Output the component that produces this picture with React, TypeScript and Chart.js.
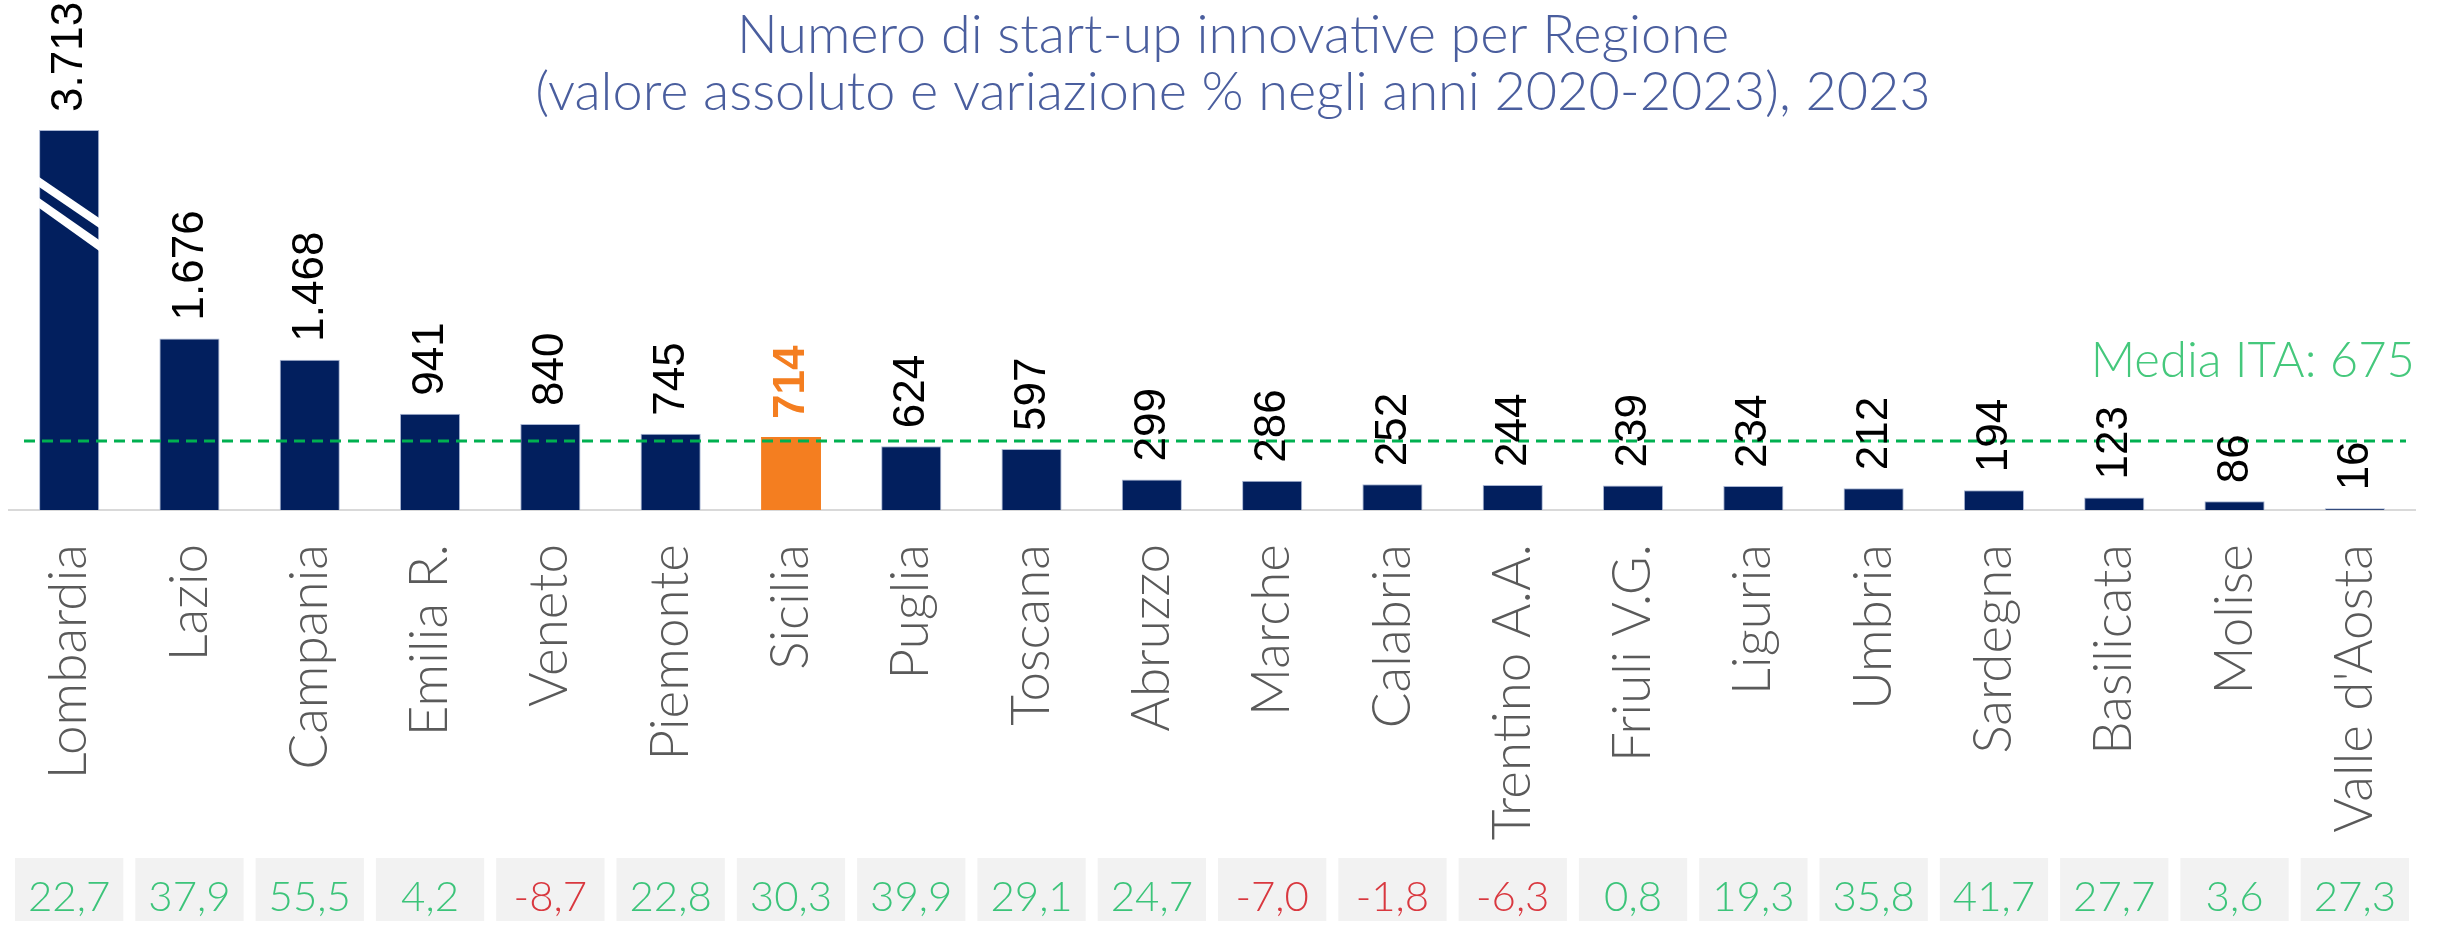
import React, { useEffect, useRef } from "react";
import { Chart, registerables } from "chart.js";

Chart.register(...registerables);

const titleLines = [
  "Numero di start-up innovative per Regione",
  "(valore assoluto e variazione % negli anni 2020-2023), 2023",
];

const categories = [
  "Lombardia", "Lazio", "Campania", "Emilia R.", "Veneto", "Piemonte", "Sicilia",
  "Puglia", "Toscana", "Abruzzo", "Marche", "Calabria", "Trentino A.A.",
  "Friuli V.G.", "Liguria", "Umbria", "Sardegna", "Basilicata", "Molise", "Valle d'Aosta",
];

const startups = [
  3713, 1676, 1468, 941, 840, 745, 714, 624, 597, 299, 286, 252, 244, 239, 234, 212, 194, 123, 86, 16,
];

const variazione = [
  22.7, 37.9, 55.5, 4.2, -8.7, 22.8, 30.3, 39.9, 29.1, 24.7, -7.0, -1.8, -6.3, 0.8, 19.3, 35.8, 41.7, 27.7, 3.6, 27.3,
];

const mediaITA = 675;
const mediaLabel = "Media ITA: 675";
const highlightRegion = "Sicilia";
const brokenRegion = "Lombardia";

const NAVY = "#021f5e";
const ORANGE = "#f47e20";
const THIN_FONT = "Lato, 'Open Sans', sans-serif";
const VALUE_FONT = "'Liberation Sans', Arial, sans-serif";

function fmtInt(v: number): string {
  return String(v).replace(/\B(?=(\d{3})+(?!\d))/g, ".");
}
function fmtDec(v: number): string {
  return v.toFixed(1).replace(".", ",");
}

const decorPlugin = {
  id: "decor",
  beforeDraw(chart: any) {
    const ctx = chart.ctx;
    ctx.save();
    ctx.fillStyle = "#4a5e9e";
    ctx.font = `300 54px ${THIN_FONT}`;
    ctx.textAlign = "center";
    ctx.textBaseline = "alphabetic";
    const cx = chart.width / 2 + 10;
    ctx.fillText(titleLines[0], cx, 53);
    ctx.fillText(titleLines[1], cx, 110);
    ctx.restore();
  },
  afterDatasetsDraw(chart: any) {
    const ctx = chart.ctx;
    const meta = chart.getDatasetMeta(0);
    const area = chart.chartArea;
    const yScale = chart.scales.y;

    // break marks on the tallest bar
    meta.data.forEach((bar: any, i: number) => {
      if (categories[i] !== brokenRegion) return;
      const L = bar.x - bar.width / 2;
      const R = bar.x + bar.width / 2;
      const t = bar.y;
      ctx.save();
      ctx.fillStyle = "#ffffff";
      const stripes = [
        [47, 57, 88, 98],
        [68, 78, 110, 121],
      ];
      stripes.forEach(([a, b, c, d]) => {
        ctx.beginPath();
        ctx.moveTo(L, t + a);
        ctx.lineTo(R, t + c);
        ctx.lineTo(R, t + d);
        ctx.lineTo(L, t + b);
        ctx.closePath();
        ctx.fill();
      });
      ctx.restore();
    });

    // mean line
    const ym = yScale.getPixelForValue(mediaITA);
    ctx.save();
    ctx.strokeStyle = "#00b050";
    ctx.lineWidth = 3;
    ctx.setLineDash([11, 7]);
    ctx.beginPath();
    ctx.moveTo(area.left + 15, ym);
    ctx.lineTo(area.right - 9, ym);
    ctx.stroke();
    ctx.restore();

    // mean label
    ctx.save();
    ctx.fillStyle = "#45c87c";
    ctx.font = `300 49px ${THIN_FONT}`;
    ctx.textAlign = "right";
    ctx.textBaseline = "alphabetic";
    ctx.fillText(mediaLabel, area.right, ym - 64);
    ctx.restore();

    // value labels
    meta.data.forEach((bar: any, i: number) => {
      const isHi = categories[i] === highlightRegion;
      ctx.save();
      ctx.translate(bar.x, bar.y - 18);
      ctx.rotate(-Math.PI / 2);
      ctx.textAlign = "left";
      ctx.textBaseline = "middle";
      ctx.fillStyle = isHi ? ORANGE : "#000000";
      ctx.font = `${isHi ? "bold " : ""}44px ${VALUE_FONT}`;
      ctx.fillText(fmtInt(startups[i]), 0, 1);
      ctx.restore();
    });
  },
  afterDraw(chart: any) {
    const ctx = chart.ctx;
    const xScale = chart.scales.x;
    const boxW = xScale.width / categories.length - 12;
    variazione.forEach((v, i) => {
      const cx = xScale.getPixelForValue(i);
      ctx.save();
      ctx.fillStyle = "#f2f2f2";
      ctx.fillRect(cx - boxW / 2, 858, boxW, 63);
      ctx.fillStyle = v < 0 ? "#d9383f" : "#3cc47a";
      ctx.font = `300 42px ${THIN_FONT}`;
      ctx.textAlign = "center";
      ctx.textBaseline = "alphabetic";
      ctx.fillText(fmtDec(v), cx, 911);
      ctx.restore();
    });
  },
};

export default function App() {
  const ref = useRef<HTMLCanvasElement | null>(null);

  useEffect(() => {
    if (!ref.current) return;
    const chart = new Chart(ref.current, {
      type: "bar",
      data: {
        labels: categories,
        datasets: [
          {
            data: startups,
            backgroundColor: categories.map((c) => (c === highlightRegion ? ORANGE : NAVY)),
            borderColor: categories.map((c) => (c === highlightRegion ? ORANGE : "#a9b6d3")),
            borderWidth: 1,
            barPercentage: 0.5,
            categoryPercentage: 1.0,
          },
        ],
      },
      options: {
        animation: false,
        responsive: true,
        maintainAspectRatio: false,
        layout: { padding: { left: 9, right: 31, top: 130, bottom: 0 } },
        plugins: {
          legend: { display: false },
          tooltip: { enabled: false },
          title: { display: false },
        },
        scales: {
          x: {
            grid: { display: false },
            border: { display: true, color: "#d9d9d9", width: 2 },
            ticks: {
              color: "#5a5a5a",
              font: { family: THIN_FONT, size: 53, weight: "300" },
              maxRotation: 90,
              minRotation: 90,
              padding: 26,
              autoSkip: false,
            },
            afterFit: (scale: any) => {
              scale.height = 421;
            },
          },
          y: {
            display: false,
            min: 0,
            max: 3713,
          },
        },
      },
      plugins: [decorPlugin],
    });
    return () => chart.destroy();
  }, []);

  return (
    <div style={{ position: "absolute", left: 0, top: 0, width: 2446, height: 931, background: "#fff" }}>
      <canvas ref={ref} />
    </div>
  );
}
